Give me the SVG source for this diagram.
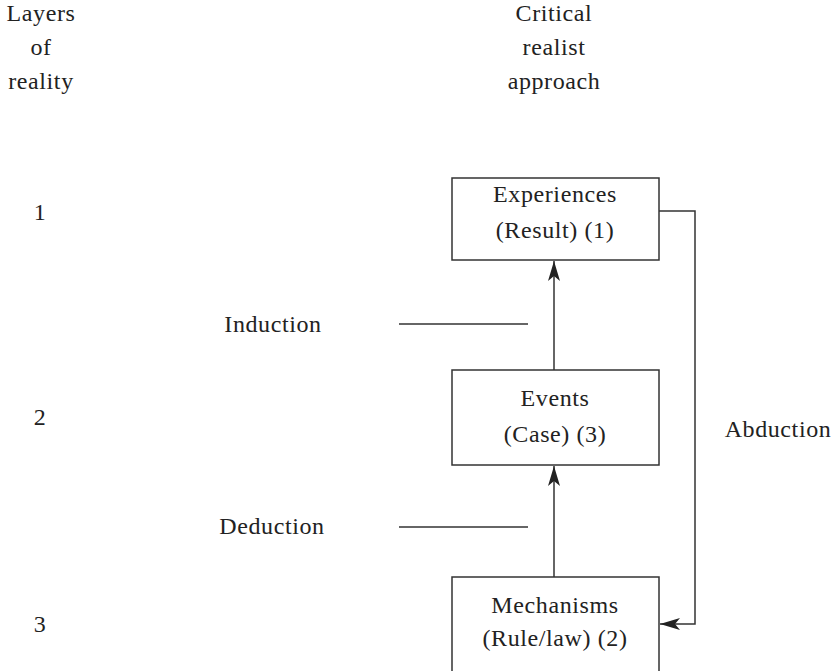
<svg xmlns="http://www.w3.org/2000/svg" width="840" height="671" viewBox="0 0 840 671">
<style>
text{font-family:"Liberation Serif","DejaVu Serif","Times New Roman",serif;font-size:24px;fill:#222;text-anchor:middle;letter-spacing:0.6px}
.box{fill:#fff;stroke:#333;stroke-width:1.5}
.ln{fill:none;stroke:#333;stroke-width:1.5}
</style>
<defs>
<marker id="ah" viewBox="0 0 20 12" refX="20" refY="6" markerWidth="20" markerHeight="12" markerUnits="userSpaceOnUse" orient="auto">
<path d="M0,0 L20,6 L0,12 L5,6 Z" fill="#222"/>
</marker>
</defs>
<g id="headers">
<text x="41" y="21">Layers</text>
<text x="41" y="55">of</text>
<text x="41" y="89">reality</text>
<text x="554" y="21">Critical</text>
<text x="554" y="55">realist</text>
<text x="554" y="89">approach</text>
</g>
<g id="layers">
<text x="40" y="220">1</text>
<text x="40" y="425">2</text>
<text x="40" y="632">3</text>
</g>
<g id="connectors">
<line class="ln" x1="554" y1="370" x2="554" y2="261" marker-end="url(#ah)"/>
<line class="ln" x1="554" y1="577" x2="554" y2="466" marker-end="url(#ah)"/>
<polyline class="ln" points="659,211 695,211 695,624 660,624" marker-end="url(#ah)"/>
<line class="ln" x1="399" y1="324" x2="528" y2="324"/>
<line class="ln" x1="399" y1="527" x2="528" y2="527"/>
</g>
<g id="experiences">
<rect class="box" x="452" y="178" width="207" height="82"/>
<text x="555" y="202">Experiences</text>
<text x="555" y="238">(Result) (1)</text>
</g>
<g id="events">
<rect class="box" x="452" y="370" width="207" height="95"/>
<text x="555" y="406">Events</text>
<text x="555" y="442">(Case) (3)</text>
</g>
<g id="mechanisms">
<rect class="box" x="452" y="577" width="207" height="100"/>
<text x="555" y="613">Mechanisms</text>
<text x="555" y="646">(Rule/law) (2)</text>
</g>
<g id="labels">
<text x="273" y="332">Induction</text>
<text x="272" y="534">Deduction</text>
<text x="778" y="437">Abduction</text>
</g>
</svg>
